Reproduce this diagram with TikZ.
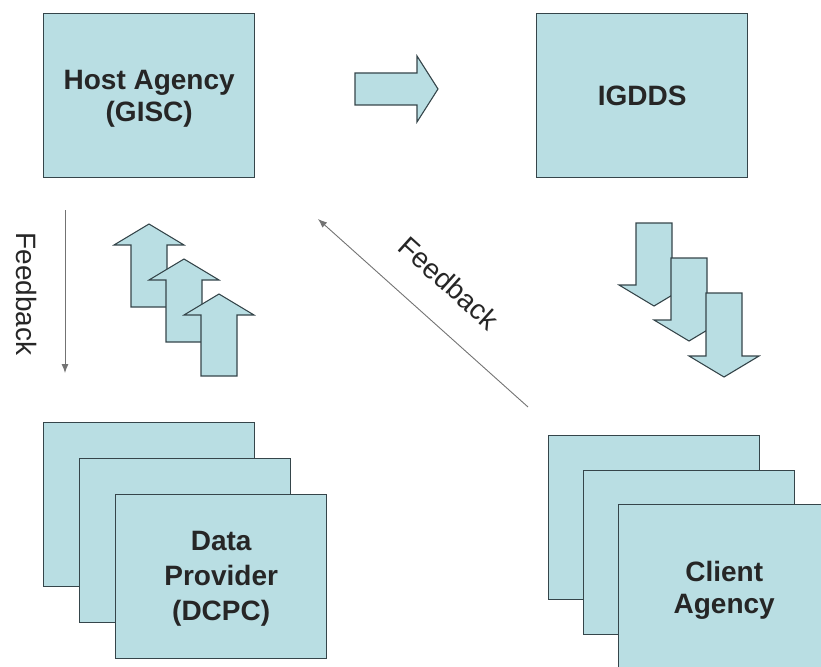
\documentclass[tikz,border=0pt]{standalone}
\usepackage{fontspec}
\setmainfont{Liberation Sans}
\usetikzlibrary{arrows.meta}
\definecolor{boxfill}{HTML}{B9DEE3}
\definecolor{boxline}{HTML}{35454A}
\tikzset{
  panel/.style={draw=boxline, line width=1.4pt, fill=boxfill, minimum width=211pt, minimum height=164pt, inner sep=0pt, anchor=north west},
  lbl/.style={font=\fontsize{28}{32}\selectfont\bfseries, align=center, text=black!85},
  fatarrow/.style={draw=boxline, line width=1.1pt, fill=boxfill, line join=miter},
  fb/.style={draw=black!55, line width=0.9pt, -{Latex[length=9pt,width=7pt]}},
  fbtext/.style={font=\fontsize{28}{32}\selectfont, text=black!85}
}
\begin{document}
\begin{tikzpicture}[x=1pt,y=-1pt]
\useasboundingbox (0,0) rectangle (821,666);
\clip (0,0) rectangle (821,666);
% top boxes
\node[panel] (host) at (43,13) {};
\node[lbl] at ([yshift=-3pt]host.center) {Host Agency\\(GISC)};
\node[panel] (igdds) at (536,13) {};
\node[lbl] at (igdds.center) {IGDDS};
% right fat arrow
\draw[fatarrow] (355,73) -- (417,73) -- (417,56) -- (438,89) -- (417,122) -- (417,105) -- (355,105) -- cycle;
% up arrows
\foreach \cx/\ty/\by in {149/224/307, 184/259/342, 219/294/376}{
  \draw[fatarrow] (\cx-18,\by) -- (\cx-18,\ty+21) -- (\cx-35,\ty+21) -- (\cx,\ty) -- (\cx+35,\ty+21) -- (\cx+18,\ty+21) -- (\cx+18,\by) -- cycle;
}
% down arrows
\foreach \cx/\ty/\by in {654/223/306, 689/258/341, 724/293/377}{
  \draw[fatarrow] (\cx-18,\ty) -- (\cx-18,\by-21) -- (\cx-35,\by-21) -- (\cx,\by) -- (\cx+35,\by-21) -- (\cx+18,\by-21) -- (\cx+18,\ty) -- cycle;
}
% feedback arrows
\coordinate (fbAstart) at (65,210);
\coordinate (fbAend) at (65,373);
\draw[fb] (fbAstart) -- (fbAend);
\node[fbtext, rotate=-90] (fbAtext) at (27,294) {Feedback};
\coordinate (fbBstart) at (528,407);
\coordinate (fbBend) at (318,219);
\draw[fb] (fbBstart) -- (fbBend);
\node[fbtext, rotate=-42] (fbBtext) at (449,283) {Feedback};
% data provider stack
\node[panel] (dp1) at (43,422) {};
\node[panel] (dp2) at (79,458) {};
\node[panel] (dp3) at (115,494) {};
\node[lbl, font=\fontsize{28}{35}\selectfont\bfseries] at ([yshift=-2pt]dp3.center) {Data\\Provider\\(DCPC)};
% client agency stack
\node[panel] (ca1) at (548,435) {};
\node[panel] (ca2) at (583,470) {};
\node[panel] (ca3) at (618,504) {};
\node[lbl] at ([yshift=-4pt]ca3.center) {Client\\Agency};
\end{tikzpicture}
\end{document}
